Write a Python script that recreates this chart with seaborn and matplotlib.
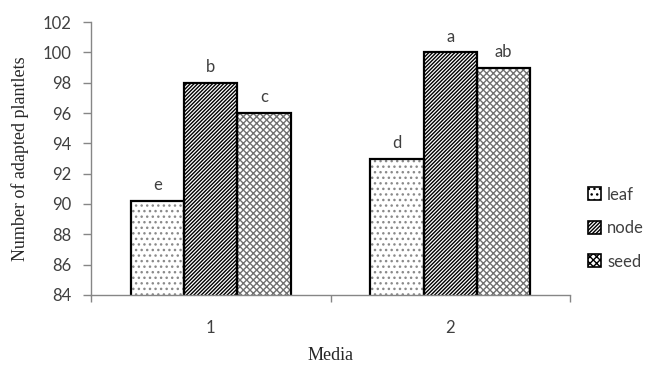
import matplotlib
matplotlib.use("Agg")
import matplotlib.pyplot as plt
from matplotlib.patches import Rectangle
import pandas as pd
import seaborn as sns

# data
media = ["1", "2"]
explants = ["leaf", "node", "seed"]
leaf = [90.2, 93.0]
node = [98.0, 100.0]
seed = [96.0, 99.0]
letters = {"leaf": ["e", "d"], "node": ["b", "a"], "seed": ["c", "ab"]}

rows = []
for name, vals in zip(explants, [leaf, node, seed]):
    for m, v in zip(media, vals):
        rows.append({"Media": m, "Explant": name, "value": v})
df = pd.DataFrame(rows)

sns.set_style("white")
plt.rcParams["font.family"] = ["Lato", "DejaVu Sans"]
plt.rcParams["hatch.linewidth"] = 1.0

fig = plt.figure(figsize=(6.57, 3.65), dpi=100)
ax = fig.add_axes([0.1385, 0.1918, 0.7291, 0.7479])

ax = sns.barplot(data=df, x="Media", y="value", hue="Explant", order=media,
                 hue_order=explants, palette=["white"] * 3, width=0.67,
                 gap=0, dodge=True, ax=ax, legend=True, linewidth=0)

hatches = {"leaf": "...", "node": "/////////", "seed": "xxxxx"}
hcolors = {"leaf": "#8a8a8a", "node": "black", "seed": "#707070"}
for cont, name in zip(ax.containers, explants):
    for bar, lab in zip(cont, letters[name]):
        bar.set_hatch(hatches[name])
        bar.set_edgecolor(hcolors[name])
        bar.set_linewidth(0)
        # black outline on top of the hatch
        ax.add_patch(Rectangle(bar.get_xy(), bar.get_width(), bar.get_height(),
                               fill=False, edgecolor="black", linewidth=1.6,
                               zorder=bar.get_zorder() + 0.1))
        ax.text(bar.get_x() + bar.get_width() / 2, bar.get_height() + 0.5, lab,
                ha="center", va="bottom", fontsize=12, color="#404040")

ax.set_ylim(84, 102)
ax.set_yticks(range(84, 103, 2))
ax.set_xlim(-0.5, 1.5)
ax.set_xticks([-0.5, 0.5, 1.5], minor=True)
ax.tick_params(axis="x", which="major", length=0, pad=18, labelsize=12,
               labelcolor="#404040")
ax.tick_params(axis="x", which="minor", length=5, width=1, color="#868686",
               direction="out", bottom=True)
ax.tick_params(axis="y", length=6, width=1, color="#868686", direction="out",
               left=True, labelsize=12, labelcolor="#404040", pad=8)
for s in ["top", "right"]:
    ax.spines[s].set_visible(False)
for s in ["left", "bottom"]:
    ax.spines[s].set_color("#868686")
    ax.spines[s].set_linewidth(1)

ax.set_xlabel("Media", family=["Liberation Serif"], fontsize=13, labelpad=8)
ax.set_ylabel("Number of adapted plantlets", family=["Liberation Serif"],
              fontsize=13, labelpad=10)

handles, labels = ax.get_legend_handles_labels()
for h, name in zip(handles, explants):
    h.set_hatch(hatches[name])
    h.set_edgecolor("black")
    h.set_linewidth(1.2)
leg = ax.legend(handles, labels, loc="center left",
                bbox_to_anchor=(0.872, 0.375), bbox_transform=fig.transFigure,
                frameon=False, handlelength=0.8, handleheight=0.8,
                handletextpad=0.35, labelspacing=1.05, fontsize=12)
for t in leg.get_texts():
    t.set_color("#404040")

fig.savefig("out.png", dpi=100)
